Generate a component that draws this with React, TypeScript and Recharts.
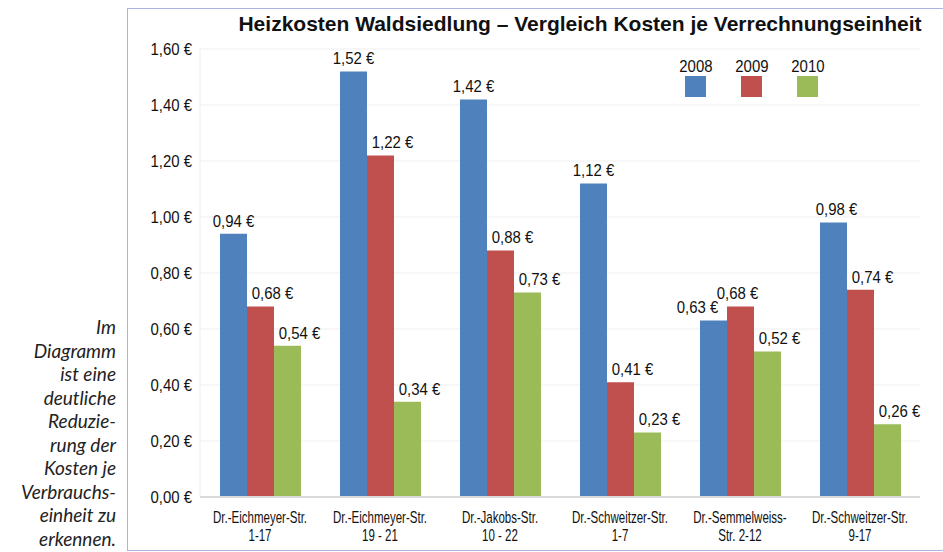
import React from 'react';
import { BarChart, Bar, XAxis, YAxis, CartesianGrid } from 'recharts';

const streets = [
  ['Dr.-Eichmeyer-Str.', '1-17'],
  ['Dr.-Eichmeyer-Str.', '19 - 21'],
  ['Dr.-Jakobs-Str.', '10 - 22'],
  ['Dr.-Schweitzer-Str.', '1-7'],
  ['Dr.-Semmelweiss-', 'Str. 2-12'],
  ['Dr.-Schweitzer-Str.', '9-17'],
];
const cost2008 = [0.94, 1.52, 1.42, 1.12, 0.63, 0.98];
const cost2009 = [0.68, 1.22, 0.88, 0.41, 0.68, 0.74];
const cost2010 = [0.54, 0.34, 0.73, 0.23, 0.52, 0.26];
const yTicks = [0, 0.2, 0.4, 0.6, 0.8, 1.0, 1.2, 1.4, 1.6];
const sideNote = ['Im', 'Diagramm', 'ist eine', 'deutliche', 'Reduzie-', 'rung der', 'Kosten je', 'Verbrauchs-', 'einheit zu', 'erkennen.'];

const series = [
  { key: 'y2008', name: '2008', color: '#4f81bd' },
  { key: 'y2009', name: '2009', color: '#c0504d' },
  { key: 'y2010', name: '2010', color: '#9bbb59' },
];

const data = streets.map((s, i) => ({
  name: s.join('\n'),
  y2008: cost2008[i],
  y2009: cost2009[i],
  y2010: cost2010[i],
}));

const SANS = "'Liberation Sans', Arial, sans-serif";
const euro = (v: number) => v.toFixed(2).replace('.', ',') + ' €';

// label nudges like in the original Excel chart
const labelShift: Record<string, number> = { y2008: 0, y2009: 12, y2010: 12 };
const labelOverride: Record<string, number> = { 'y2008-4': -16, 'y2009-4': -3, 'y2008-5': 3 };

// the original uses a condensed face, so squeeze Liberation Sans a bit
function NarrowText({ x, y, size, squeeze, anchor, children }: any) {
  return (
    <text
      transform={`translate(${x},${y}) scale(${squeeze},1)`}
      textAnchor={anchor}
      dominantBaseline="central"
      fontSize={size}
      fontFamily={SANS}
      fill="#111"
    >
      {children}
    </text>
  );
}

function makeLabel(key: string) {
  return (props: any) => {
    const { x, y, width, value, index } = props;
    const dx = labelOverride[`${key}-${index}`] ?? labelShift[key];
    return (
      <NarrowText x={x + width / 2 + dx} y={y - 13} size={17} squeeze={0.88} anchor="middle">
        {euro(value)}
      </NarrowText>
    );
  };
}

function StreetTick({ x, y, payload }: any) {
  const lines = String(payload.value).split('\n');
  return (
    <g>
      {lines.map((l, i) => (
        <NarrowText key={i} x={x} y={y + 12 + i * 18} size={16} squeeze={0.72} anchor="middle">
          {l}
        </NarrowText>
      ))}
    </g>
  );
}

function EuroTick({ x, y, payload }: any) {
  return (
    <NarrowText x={x} y={y} size={17} squeeze={0.88} anchor="end">
      {euro(payload.value)}
    </NarrowText>
  );
}

function YearLegend() {
  return (
    <div style={{ position: 'absolute', left: 685, top: 57, display: 'flex', gap: 35 }}>
      {series.map(s => (
        <div key={s.key} style={{ display: 'flex', flexDirection: 'column', alignItems: 'center', width: 21 }}>
          <span
            style={{
              fontFamily: SANS,
              fontSize: 17,
              color: '#111',
              lineHeight: '19px',
              display: 'inline-block',
              transform: 'scaleX(0.88)',
            }}
          >
            {s.name}
          </span>
          <span style={{ width: 21, height: 21, background: s.color, marginTop: 0 }} />
        </div>
      ))}
    </div>
  );
}

export default function App() {
  return (
    <div style={{ position: 'absolute', left: 0, top: 0, width: 943, height: 552, overflow: 'hidden', background: '#fff' }}>
      <div
        style={{
          position: 'absolute',
          left: 127,
          top: 8,
          width: 860,
          height: 541,
          border: '1.5px solid #aeb2e0',
        }}
      />
      <div
        style={{
          position: 'absolute',
          left: 217,
          width: 726,
          top: 12,
          textAlign: 'center',
          fontFamily: SANS,
          fontWeight: 'bold',
          fontSize: 21,
          color: '#111',
          whiteSpace: 'nowrap',
        }}
      >
        Heizkosten Waldsiedlung – Vergleich Kosten je Verrechnungseinheit
      </div>
      <div
        style={{
          position: 'absolute',
          right: 943 - 116,
          top: 315,
          textAlign: 'right',
          fontFamily: 'Lato, sans-serif',
          fontStyle: 'italic',
          fontSize: 19,
          lineHeight: '23.5px',
          color: '#222',
        }}
      >
        {sideNote.map((l, i) => (
          <div key={i}>{l}</div>
        ))}
      </div>
      <div style={{ position: 'absolute', left: 0, top: 0 }}>
        <BarChart
          width={943}
          height={552}
          data={data}
          margin={{ top: 49, right: 23, bottom: 5, left: 130 }}
          barCategoryGap={20}
          barGap={0}
        >
          <CartesianGrid vertical={false} stroke="#efefef" />
          <XAxis
            dataKey="name"
            height={50}
            tick={<StreetTick />}
            tickLine={false}
            axisLine={{ stroke: '#d9d9d9', strokeWidth: 2 }}
            interval={0}
          />
          <YAxis
            width={70}
            domain={[0, 1.6]}
            ticks={yTicks}
            tick={<EuroTick />}
            tickLine={false}
            tickSize={0}
            tickMargin={8}
            axisLine={{ stroke: '#ececec' }}
          />
          {series.map(s => (
            <Bar
              key={s.key}
              dataKey={s.key}
              name={s.name}
              fill={s.color}
              isAnimationActive={false}
              label={makeLabel(s.key)}
            />
          ))}
        </BarChart>
      </div>
      <YearLegend />
    </div>
  );
}
